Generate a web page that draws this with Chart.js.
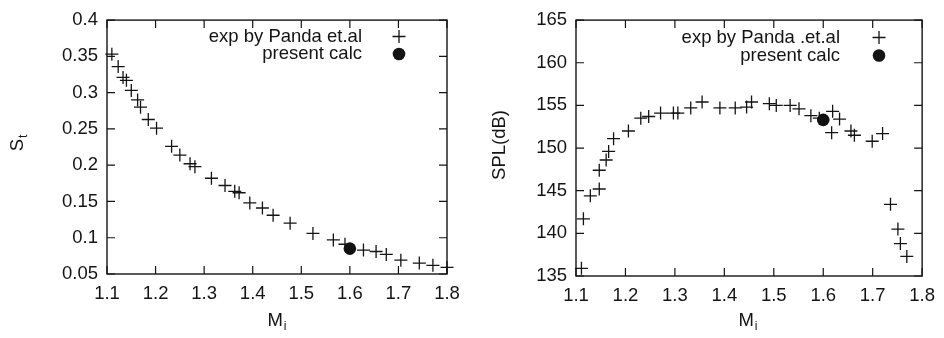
<!DOCTYPE html>
<html>
<head>
<meta charset="utf-8">
<script src="https://cdn.jsdelivr.net/npm/chart.js@4.4.0/dist/chart.umd.min.js"></script>
<style>
  html, body { margin: 0; padding: 0; background: #fff; }
  #wrap { position: relative; width: 944px; height: 338px; overflow: hidden; }
  canvas { position: absolute; top: 0; }
</style>
</head>
<body>
<div id="wrap">
  <canvas id="stChart" width="470" height="338" style="left:0"></canvas>
  <canvas id="splChart" width="474" height="338" style="left:470px"></canvas>
</div>
<script>
// ---- tick labels ----
const machTicks = [1.1, 1.2, 1.3, 1.4, 1.5, 1.6, 1.7, 1.8];
const stTicks = [0.05, 0.1, 0.15, 0.2, 0.25, 0.3, 0.35, 0.4];
const splTicks = [135, 140, 145, 150, 155, 160, 165];

// ---- Strouhal number: measurements ----
const stExpMach = [1.11, 1.123, 1.133, 1.14, 1.15, 1.163, 1.169, 1.185, 1.202, 1.233, 1.25, 1.271, 1.281,
  1.315, 1.343, 1.363, 1.372, 1.394, 1.42, 1.442, 1.477, 1.524, 1.566, 1.59, 1.628, 1.654, 1.675,
  1.705, 1.743, 1.771, 1.80];
const stExpValues = [0.353, 0.336, 0.321, 0.317, 0.303, 0.290, 0.280, 0.263, 0.251, 0.226, 0.214, 0.202, 0.198,
  0.182, 0.172, 0.164, 0.162, 0.148, 0.141, 0.131, 0.120, 0.106, 0.097, 0.091, 0.083, 0.081, 0.077,
  0.069, 0.065, 0.062, 0.059];
// ---- Strouhal number: computation ----
const stCalcMach = [1.6];
const stCalcValues = [0.085];

// ---- sound pressure level: measurements ----
const splExpMach = [1.111, 1.115, 1.129, 1.147, 1.147, 1.161, 1.166, 1.176, 1.206, 1.231, 1.247, 1.271,
  1.297, 1.306, 1.332, 1.355, 1.391, 1.422, 1.445, 1.455, 1.491, 1.505, 1.533, 1.551, 1.575, 1.592,
  1.619, 1.633, 1.617, 1.656, 1.663, 1.699, 1.720, 1.736, 1.751, 1.756, 1.769];
const splExpValues = [135.9, 141.7, 144.4, 145.2, 147.4, 148.6, 149.6, 151.1, 152.0, 153.5, 153.7, 154.1,
  154.1, 154.1, 154.7, 155.4, 154.7, 154.7, 154.8, 155.4, 155.2, 155.0, 155.0, 154.6, 153.8, 153.5,
  154.3, 153.4, 151.8, 152.0, 151.5, 150.8, 151.7, 143.4, 140.5, 138.8, 137.3];
// ---- sound pressure level: computation ----
const splCalcMach = [1.6];
const splCalcValues = [153.3];

const INK = '#141414';
const FONT = '"Liberation Sans", Arial, Helvetica, sans-serif';
const FONT_SIZE = 18.5;

function toPoints(xs, ys) {
  return xs.map((x, i) => ({ x: x, y: ys[i] }));
}

// Box frame with gnuplot-style inward tick marks on all four sides
const framePlugin = {
  id: 'frame',
  beforeDatasetsDraw(chart) {
    const { ctx, chartArea: a, scales } = chart;
    const len = 8;
    ctx.save();
    ctx.strokeStyle = INK;
    ctx.lineWidth = 1.4;
    ctx.strokeRect(a.left, a.top, a.right - a.left, a.bottom - a.top);
    ctx.lineWidth = 1.2;
    ctx.beginPath();
    scales.x.ticks.forEach(t => {
      const px = scales.x.getPixelForValue(t.value);
      ctx.moveTo(px, a.bottom); ctx.lineTo(px, a.bottom - len);
      ctx.moveTo(px, a.top); ctx.lineTo(px, a.top + len);
    });
    scales.y.ticks.forEach(t => {
      const py = scales.y.getPixelForValue(t.value);
      ctx.moveTo(a.left, py); ctx.lineTo(a.left + len, py);
      ctx.moveTo(a.right, py); ctx.lineTo(a.right - len, py);
    });
    ctx.stroke();
    ctx.restore();
  }
};

// Axis titles (with subscripts) and the in-plot key
const labelsPlugin = {
  id: 'labels',
  afterDraw(chart, args, o) {
    const ctx = chart.ctx;
    ctx.save();
    ctx.fillStyle = INK;
    ctx.strokeStyle = INK;

    function subText(main, sub, cx, cy, rotate) {
      ctx.save();
      ctx.translate(cx, cy);
      if (rotate) ctx.rotate(-Math.PI / 2);
      ctx.font = FONT_SIZE + 'px ' + FONT;
      const wm = ctx.measureText(main).width;
      ctx.font = '12px ' + FONT;
      const ws = sub ? ctx.measureText(sub).width + 1 : 0;
      const x0 = -(wm + ws) / 2;
      ctx.textBaseline = 'middle';
      ctx.textAlign = 'left';
      ctx.font = FONT_SIZE + 'px ' + FONT;
      ctx.fillText(main, x0, 0);
      if (sub) {
        ctx.font = '12px ' + FONT;
        ctx.fillText(sub, x0 + wm + 1, 6);
      }
      ctx.restore();
    }
    subText(o.xTitle[0], o.xTitle[1], o.xTitlePos[0], o.xTitlePos[1], false);
    subText(o.yTitle[0], o.yTitle[1], o.yTitlePos[0], o.yTitlePos[1], true);

    // key
    ctx.font = FONT_SIZE + 'px ' + FONT;
    ctx.textAlign = 'right';
    ctx.textBaseline = 'middle';
    chart.data.datasets.forEach((ds, i) => {
      const y = o.keyY + i * o.keyGap;
      ctx.fillText(ds.label, o.keyTextX, y);
      const sx = o.keySymX;
      if (ds.pointStyle === 'cross') {
        const r = ds.pointRadius;
        ctx.lineWidth = ds.pointBorderWidth;
        ctx.beginPath();
        ctx.moveTo(sx - r, y); ctx.lineTo(sx + r, y);
        ctx.moveTo(sx, y - r); ctx.lineTo(sx, y + r);
        ctx.stroke();
      } else {
        ctx.beginPath();
        ctx.arc(sx, y, ds.pointRadius, 0, Math.PI * 2);
        ctx.fill();
      }
    });
    ctx.restore();
  }
};

function makeChart(id, cfg) {
  return new Chart(document.getElementById(id), {
    type: 'scatter',
    data: {
      datasets: [
        {
          label: cfg.expLabel,
          data: toPoints(cfg.expX, cfg.expY),
          pointStyle: 'cross',
          pointRadius: 6.5,
          pointHoverRadius: 6.5,
          pointBorderWidth: 1.3,
          borderColor: INK,
          backgroundColor: INK,
          showLine: false,
          clip: false
        },
        {
          label: 'present calc',
          data: toPoints(cfg.calcX, cfg.calcY),
          pointStyle: 'circle',
          pointRadius: 6.3,
          pointHoverRadius: 6.3,
          pointBorderWidth: 0,
          borderColor: '#111',
          backgroundColor: '#111',
          showLine: false,
          clip: false
        }
      ]
    },
    options: {
      responsive: false,
      animation: false,
      events: [],
      layout: { padding: cfg.padding },
      scales: {
        x: {
          type: 'linear',
          min: machTicks[0],
          max: machTicks[machTicks.length - 1],
          afterBuildTicks: s => { s.ticks = machTicks.map(v => ({ value: v })); },
          afterFit: s => { s.height = cfg.xAxisH; },
          grid: { display: false, drawTicks: false },
          border: { display: false },
          ticks: {
            padding: 9,
            color: INK,
            font: { family: FONT, size: FONT_SIZE },
            callback: v => String(v)
          }
        },
        y: {
          type: 'linear',
          min: cfg.yTicks[0],
          max: cfg.yTicks[cfg.yTicks.length - 1],
          afterBuildTicks: s => { s.ticks = cfg.yTicks.map(v => ({ value: v })); },
          afterFit: s => { s.width = cfg.yAxisW; },
          grid: { display: false, drawTicks: false },
          border: { display: false },
          ticks: {
            padding: 9,
            color: INK,
            font: { family: FONT, size: FONT_SIZE },
            callback: v => String(v)
          }
        }
      },
      plugins: {
        legend: { display: false },
        tooltip: { enabled: false },
        labels: cfg.labels
      }
    },
    plugins: [framePlugin, labelsPlugin]
  });
}

makeChart('stChart', {
  expLabel: 'exp by Panda et.al',
  expX: stExpMach, expY: stExpValues,
  calcX: stCalcMach, calcY: stCalcValues,
  yTicks: stTicks,
  padding: { left: 0, right: 23, top: 16, bottom: 0 },
  yAxisW: 107,
  xAxisH: 64,
  labels: {
    xTitle: ['M', 'i'], xTitlePos: [277, 321],
    yTitle: ['S', 't'], yTitlePos: [18, 143],
    keyTextX: 362, keySymX: 399, keyY: 36.5, keyGap: 17.5
  }
});

makeChart('splChart', {
  expLabel: 'exp by Panda .et.al',
  expX: splExpMach, expY: splExpValues,
  calcX: splCalcMach, calcY: splCalcValues,
  yTicks: splTicks,
  padding: { left: 0, right: 18, top: 18, bottom: 0 },
  yAxisW: 106,
  xAxisH: 62,
  labels: {
    xTitle: ['M', 'i'], xTitlePos: [278, 321],
    yTitle: ['SPL(dB)', ''], yTitlePos: [30, 145],
    keyTextX: 370, keySymX: 409, keyY: 37.5, keyGap: 18
  }
});
</script>
</body>
</html>
